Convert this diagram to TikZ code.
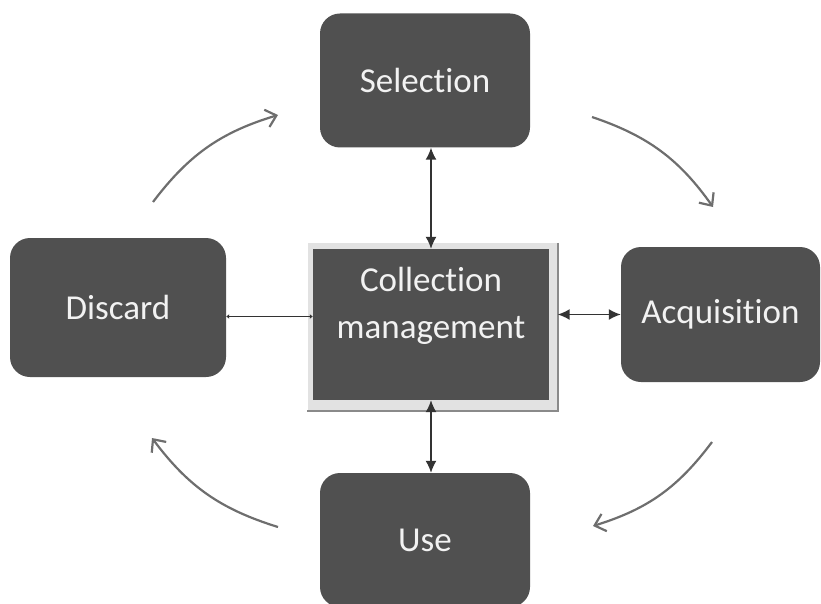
\documentclass[tikz,border=0pt]{standalone}
\usepackage{fontspec}
\setmainfont[RawFeature={-liga}]{Carlito}
\usetikzlibrary{arrows.meta, positioning, calc}
\definecolor{cbox}{HTML}{505050}
\definecolor{ctext}{HTML}{F2F2F2}
\definecolor{cline}{HTML}{333333}
\definecolor{ccycle}{HTML}{6E6E6E}
\definecolor{cframe}{HTML}{E2E2E2}
\definecolor{cshadow}{HTML}{8A8A8A}
\tikzset{
  every picture/.style={font=\fontsize{35}{47}\selectfont},
  box/.style={fill=cbox, rounded corners=20pt, text=ctext, align=center, inner sep=0pt},
  link/.style={{Latex[length=12pt,width=11pt]}-{Latex[length=12pt,width=11pt]}, draw=cline, line width=1.5pt},
  turn/.style={-{Straight Barb[length=10pt,width=18pt]}, draw=ccycle, line width=2.2pt},
}
\begin{document}
\begin{tikzpicture}[x=1pt, y=-1pt]
  \useasboundingbox (0,0) rectangle (821,604);
  % stations of the cycle
  \node[box, minimum width=210pt, minimum height=134pt] (sel) at (425,80.5) {Selection};
  \node[box, minimum width=199pt, minimum height=135pt] (acq) at (720.5,314.5) {Acquisition};
  \node[box, minimum width=210pt, minimum height=134pt] (use) at (425,540) {Use};
  \node[box, minimum width=216pt, minimum height=139pt] (dis) at (118,307.5) {Discard};
  % central box with its frame
  \node[fill=cframe, minimum width=250pt, minimum height=168pt, inner sep=0pt] (frm) at (432.5,327) {};
  \draw[cshadow, line width=2pt] (frm.north east) -- (frm.south east) -- (frm.south west);
  \node[fill=cbox, minimum width=236pt, minimum height=151pt, inner sep=0pt, text=ctext, align=center,
        label={[text=ctext, align=center, yshift=19pt]center:Collection\\management}] (cm) at (431,324.5) {};
  % links to the centre
  \draw[link] (cm.north -| 431,0) -- (sel.south -| 431,0);
  \draw[link] (cm.south -| 431,0) -- (use.north -| 431,0);
  \draw[link] (acq.west -| frm.east) -- (acq.west);
  \draw[{Latex[length=3pt,width=5pt]}-{Latex[length=3pt,width=5pt]}, draw=cline, line width=1.2pt]
    ([yshift=-9pt]dis.east) -- ([yshift=-9pt]dis.east -| cm.west);
  % cycle arrows
  \coordinate (tl0) at (153,202); \coordinate (tl1) at (278,115);
  \coordinate (tr0) at (592,117); \coordinate (tr1) at (713,207);
  \coordinate (br0) at (712,442); \coordinate (br1) at (593,526);
  \coordinate (bl0) at (278,527); \coordinate (bl1) at (152,438);
  \draw[turn] (tl0) to[bend left=18] (tl1);
  \draw[turn] (tr0) to[bend left=18] (tr1);
  \draw[turn] (br0) to[bend left=18] (br1);
  \draw[turn] (bl0) to[bend left=18] (bl1);
\end{tikzpicture}
\end{document}
